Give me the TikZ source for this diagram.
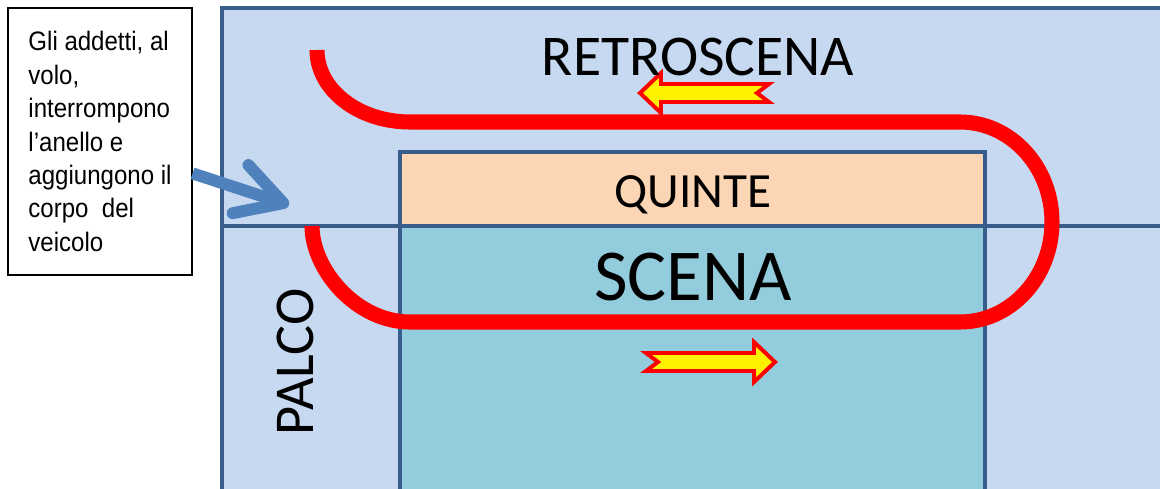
\documentclass[tikz,border=0pt]{standalone}
\usepackage{fontspec}
\setmainfont{Carlito}
\newfontfamily\notefont[FakeStretch=0.9]{Liberation Sans}
\usetikzlibrary{arrows.meta}

\definecolor{stagefill}{HTML}{C6D9F1}
\definecolor{stageline}{HTML}{385D8A}
\definecolor{quintefill}{HTML}{FCD5B5}
\definecolor{scenafill}{HTML}{93CDDD}
\definecolor{calloutblue}{HTML}{4F81BD}

\tikzset{
  wall/.style={draw=stageline, line width=3.2pt},
  track/.style={draw=red, line width=10.7pt},
  flowarrow/.style={draw=red, fill=yellow, line width=2.8pt, miter limit=20},
  callout/.style={calloutblue, line width=8.5pt, -{Straight Barb[length=32pt,width=36pt,round]}},
  note/.style={draw, fill=white, line width=0.8pt, minimum width=4.6cm, minimum height=6.675cm,
    align=left, font=\notefont\fontsize{19}{23.8}\selectfont},
  stagetext/.style={anchor=base, inner sep=0pt},
  flow/.pic={\draw[flowarrow] (0,0) -- (-21,20) -- (-21,9) -- (-129,9) -- (-117,0)
      -- (-129,-9) -- (-21,-9) -- (-21,-20) -- cycle;}
}

\begin{document}
\begin{tikzpicture}[x=0.025cm, y=-0.025cm]
\useasboundingbox (0,0) rectangle (1160,488);
\begin{scope}
  \clip (0,0) rectangle (1160,488);
  % the stage
  \draw[wall, fill=stagefill] (222,8) rectangle (1220,560);
  \draw[wall] (222,226) -- (1220,226);
  \draw[wall, fill=quintefill] (400,152) rectangle (985,226);
  \draw[wall, fill=scenafill] (400,226) rectangle (985,560);

  % the ring
  \draw[track] (317,50) .. controls (317,90) and (359,122) .. (410,122)
    -- (960,122) .. controls (1011,122) and (1052,167) .. (1052,222)
    .. controls (1052,277) and (1011,322) .. (960,322)
    -- (410,322) .. controls (356,322) and (312,269) .. (312,226);

  \pic[rotate=180] at (640,93) {flow};
  \pic at (775,362) {flow};
\end{scope}

\node[stagetext, font=\fontsize{41}{41}\selectfont] (retro) at (698,75) {RETROSCENA};
\node[stagetext, font=\fontsize{35}{35}\selectfont] (quinte) at (693,207) {QUINTE};
\node[stagetext, font=\fontsize{52}{52}\selectfont] (scena) at (693,300) {SCENA};
\node[stagetext, rotate=90, font=\fontsize{40}{40}\selectfont] (palco) at (313,362) {PALCO};

\node[note] (note) at (100,141.5) {Gli addetti, al\\volo,\\interrompono\\l’anello e\\aggiungono il\\corpo\ \ del\\veicolo};
\coordinate (gap) at (289,205);
\draw[callout] (note.-19) -- (gap);
\end{tikzpicture}
\end{document}
